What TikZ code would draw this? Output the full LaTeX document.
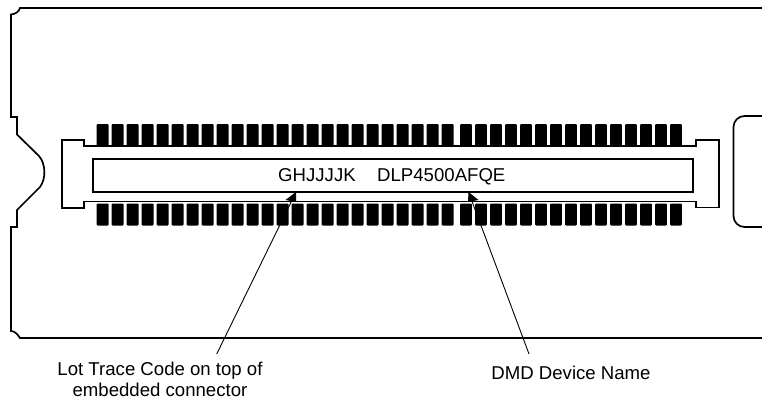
\documentclass[tikz,border=0pt]{standalone}
\usepackage{fontspec}
\setmainfont{Liberation Sans}
\tikzset{
  outline/.style={draw=black,line width=1.7pt,line join=miter},
  pinbar/.style={fill=black,rounded corners=1pt},
  lbl/.style={font=\fontsize{18.6}{21}\selectfont,align=center,inner sep=0pt},
  leader/.style={draw=black,line width=0.9pt},
}
\begin{document}
\begin{tikzpicture}[x=1pt,y=-1pt]
\useasboundingbox (0,0) rectangle (762,401);
\fill[white] (0,0) rectangle (762,401);
% board
\draw[outline] (762,8) -- (20,8) .. controls (19,12) and (15,14) .. (11,14.5) -- (11,117) -- (17,117) -- (17,134.5)
 -- (39,156) .. controls (46,164) and (46,179) .. (40,187) -- (17,210) -- (17,227) -- (11,227) -- (11,331)
 .. controls (15,331) and (18,335) .. (20,338) -- (762,338);
% right window
\draw[outline,rounded corners=11pt] (770,116) -- (733.5,116) -- (733.5,227) -- (770,227);
% pins
\foreach \i in {0,...,38}{
  \pgfmathsetmacro{\xa}{\i<24 ? 96.7+15*\i : 100+15*\i}
  \fill[pinbar] (\xa,124) rectangle (\xa+11.8,146.5);
  \fill[pinbar] (\xa,203.5) rectangle (\xa+11.8,225.5);
}
% connector
\draw[outline,fill=white] (62,140) -- (84,140) -- (84,146) -- (696,146) -- (696,140) -- (719,140) -- (719,207.5) -- (696,207.5) -- (696,201.5) -- (84,201.5) -- (84,208) -- (62,208) -- cycle;
\node[draw=black,line width=1.7pt,fill=white,minimum width=600pt,minimum height=33pt,inner sep=0pt,anchor=north west] (strip) at (92,158) {};
\node[lbl,anchor=base west] (lot) at (278,181) {GHJJJJK};
\node[lbl,anchor=base west] (dev) at (377,181) {DLP4500AFQE};
\node[lbl] (lotlabel) at (160,379) {Lot Trace Code on top of\\embedded connector};
\node[lbl,anchor=base] (devlabel) at (571,379) {DMD Device Name};
\coordinate (lottip) at (296,192);
\coordinate (devtip) at (468.5,192);
\coordinate (lotend) at (216.7,354);
\coordinate (devend) at (529,354);
\draw[leader] (lottip) -- (lotend);
\draw[leader] (devtip) -- (devend);
\fill (lottip) -- (285.5,200) -- (296,202) -- cycle;
\fill (devtip) -- (468,202) -- (478.5,200) -- cycle;
\end{tikzpicture}
\end{document}
